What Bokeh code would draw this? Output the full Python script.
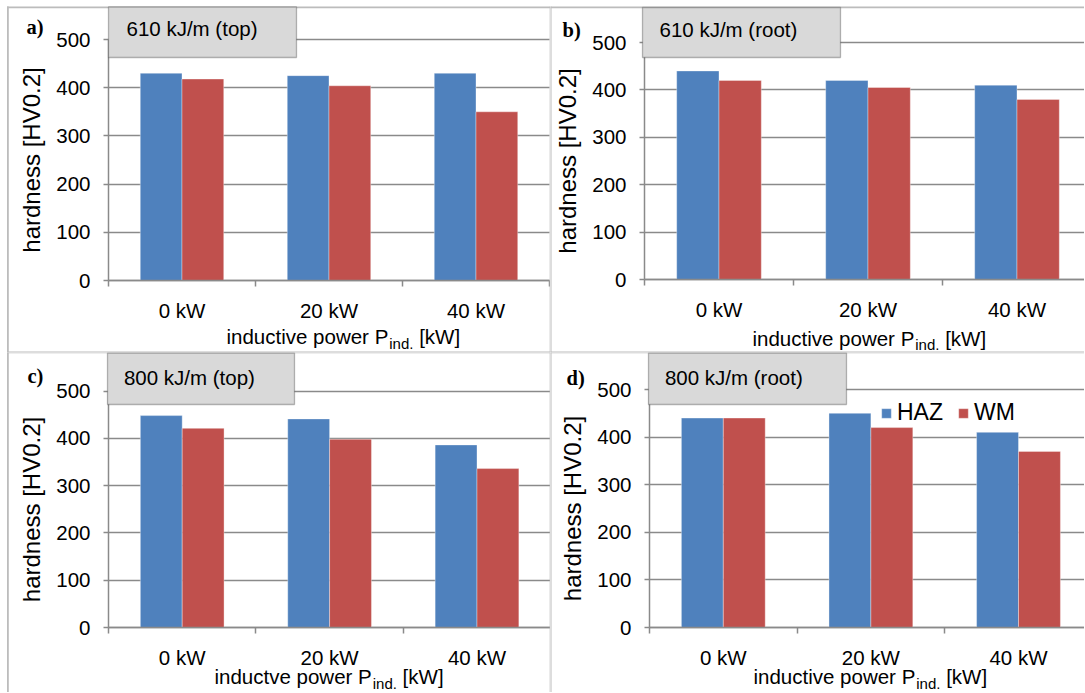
from bokeh.plotting import figure
from bokeh.layouts import column, row
from bokeh.models import (ColumnDataSource, Range1d, FixedTicker, Label,
                          BoxAnnotation, Legend, LegendItem, Grid)
from bokeh.transform import dodge
from bokeh.embed import file_html
from bokeh.resources import INLINE

# ---------------- data ----------------
categories = ["0 kW", "20 kW", "40 kW"]
series = ["HAZ", "WM"]
haz_a = [430, 425, 430]
wm_a = [418, 404, 350]
haz_b = [440, 420, 410]
wm_b = [420, 405, 380]
haz_c = [448, 441, 386]
wm_c = [421, 398, 336]
haz_d = [440, 450, 410]
wm_d = [440, 420, 370]
y_ticks = [0, 100, 200, 300, 400, 500]
panel_letters = ["a)", "b)", "c)", "d)"]
panel_titles = ["610 kJ/m (top)", "610 kJ/m (root)", "800 kJ/m (top)", "800 kJ/m (root)"]
x_title_main = ["inductive power P", "inductive power P", "inductve power P", "inductive power P"]
x_title_sub = "ind."
x_title_unit = "[kW]"
y_title = "hardness [HV0.2]"

# ---------------- styling / layout ----------------
BLUE = "#4F81BD"
RED = "#C0504D"
GRID = "#8a8a8a"
BORDER = "#bcbcbc"
FONT = "Liberation Sans"
FS = 20.5
BASE_FIX = 0.44  # label baseline correction (em)

# Arial / Liberation Sans advance widths (per 1000 em)
AW = {'i': 222, 'n': 556, 'd': 556, 'u': 556, 'c': 500, 't': 278, 'v': 500, 'e': 556,
      ' ': 278, 'p': 556, 'o': 556, 'w': 722, 'r': 333, 'P': 667, '.': 278, '[': 278,
      'k': 500, 'W': 944, ']': 278}


def tw(s, size):
    return sum(AW.get(ch, 556) for ch in s) / 1000.0 * size


panels = [
    dict(ox=0, oy=0, W=550, H=352, FL=108, FB=280, cat=147.0, unit=0.482,
         box=(108, 296, 6.5, 57), boxtext=(126, 37.5), letter=(26, 36),
         xt=(226, 345.5)),
    dict(ox=550, oy=0, W=534, H=352, FL=644, FB=279, cat=149.0, unit=0.474,
         box=(642, 840, 7, 57), boxtext=(659, 37.7), letter=(562, 39),
         xt=(752, 347)),
    dict(ox=0, oy=352, W=550, H=340, FL=108, FB=627, cat=147.4, unit=0.473,
         box=(107, 294, 352.5, 404), boxtext=(123.4, 385.8), letter=(27, 385),
         xt=(214, 685.5)),
    dict(ox=550, oy=352, W=534, H=340, FL=649, FB=627, cat=147.6, unit=0.476,
         box=(648, 846, 352.5, 404), boxtext=(664.4, 386), letter=(566, 387),
         xt=(753, 685.5)),
]
border_lines = [
    (6.5, 8.3, 6, 700),
    (6.5, 1100, 6, 7.8),
    (549.2, 551.0, 6, 700),
    (6.5, 1100, 351, 352.8),
]

haz_all = [haz_a, haz_b, haz_c, haz_d]
wm_all = [wm_a, wm_b, wm_c, wm_d]
has_cross = "cross_bounds" in Grid.properties()

figs = []
for k, cfg in enumerate(panels):
    ox, oy, W, H = cfg["ox"], cfg["oy"], cfg["W"], cfg["H"]
    FL, FB, cat, unit = cfg["FL"], cfg["FB"], cfg["cat"], cfg["unit"]

    def sx(px, ox=ox):
        return px - ox

    def sy(py, oy=oy, H=H):
        return oy + H - py

    def add_text(p, text, px, pbase, size, font=FONT, style="normal"):
        p.add_layout(Label(x=sx(px), y=sy(pbase) + BASE_FIX * size,
                           x_units="screen", y_units="screen", text=text,
                           text_font=font, text_font_size=f"{size}px",
                           text_font_style=style, text_color="black",
                           text_align="left", text_baseline="alphabetic"))

    x_range = Range1d((ox - FL) / cat, (ox + W - FL) / cat)
    y_range = Range1d((FB - (oy + H)) / unit, (FB - oy) / unit)

    p = figure(width=W, height=H, output_backend="svg", toolbar_location=None,
               x_range=x_range, y_range=y_range,
               min_border_left=0, min_border_right=0,
               min_border_top=0, min_border_bottom=0)
    p.outline_line_color = None
    p.background_fill_color = "white"
    p.border_fill_color = "white"

    for (a0, a1, b0, b1) in border_lines:
        p.add_layout(BoxAnnotation(left=sx(a0), right=sx(a1), top=sy(b0), bottom=sy(b1),
                                   left_units="screen", right_units="screen",
                                   top_units="screen", bottom_units="screen",
                                   fill_color=BORDER, fill_alpha=1, line_color=None))

    p.xgrid.grid_line_color = None
    p.ygrid.ticker = FixedTicker(ticks=y_ticks)
    if has_cross:
        p.ygrid.grid_line_color = GRID
        p.ygrid.grid_line_width = 1.5
        p.ygrid.cross_bounds = (0, len(categories))
        p.ygrid.bounds = (0, 500)
    else:
        p.ygrid.grid_line_color = None
        p.segment(x0=0, x1=len(categories), y0=y_ticks, y1=y_ticks,
                  line_color=GRID, line_width=1.5)

    xs = [i + 0.5 for i in range(len(categories))]
    src = ColumnDataSource(dict(x=xs, haz=haz_all[k], wm=wm_all[k], cat=categories))
    r1 = p.vbar(x=dodge("x", -0.142), top="haz", width=0.284, source=src,
                fill_color=BLUE, line_color="white", line_alpha=0.35, line_width=1)
    r2 = p.vbar(x=dodge("x", 0.142), top="wm", width=0.284, source=src,
                fill_color=RED, line_color="white", line_alpha=0.35, line_width=1)

    xax = p.xaxis[0]
    xax.fixed_location = 0
    xax.bounds = (0, len(categories))
    xax.ticker = FixedTicker(ticks=xs, minor_ticks=list(range(len(categories) + 1)))
    xax.major_label_overrides = {x: c for x, c in zip(xs, categories)}
    xax.major_tick_line_color = None
    xax.major_tick_out = 5
    xax.major_tick_in = 0
    xax.minor_tick_line_color = GRID
    xax.minor_tick_line_width = 1.5
    xax.minor_tick_out = 6
    xax.minor_tick_in = 0
    xax.axis_line_color = GRID
    xax.axis_line_width = 1.5
    xax.major_label_text_font = FONT
    xax.major_label_text_font_size = f"{FS}px"
    xax.major_label_text_color = "black"
    xax.major_label_standoff = 12

    yax = p.yaxis[0]
    yax.fixed_location = 0
    yax.ticker = FixedTicker(ticks=y_ticks)
    yax.bounds = (0, 500)
    yax.minor_tick_line_color = None
    yax.major_tick_line_color = GRID
    yax.major_tick_line_width = 1.5
    yax.major_tick_out = 5
    yax.major_tick_in = 0
    yax.axis_line_color = GRID
    yax.axis_line_width = 1.5
    yax.major_label_text_font = FONT
    yax.major_label_text_font_size = f"{FS}px"
    yax.major_label_text_color = "black"
    yax.major_label_standoff = 13
    yax.axis_label = y_title
    yax.axis_label_text_font = FONT
    yax.axis_label_text_font_size = "24px"
    yax.axis_label_text_font_style = "normal"
    yax.axis_label_text_color = "black"
    yax.axis_label_standoff = 8

    bx0, bx1, by0, by1 = cfg["box"]
    p.add_layout(BoxAnnotation(left=sx(bx0), right=sx(bx1), top=sy(by0), bottom=sy(by1),
                               left_units="screen", right_units="screen",
                               top_units="screen", bottom_units="screen",
                               fill_color="#D9D9D9", fill_alpha=1,
                               line_color="#1a1a1a", line_width=1.3))
    tx, ty = cfg["boxtext"]
    add_text(p, panel_titles[k], tx, ty, FS)

    lx, ly = cfg["letter"]
    add_text(p, panel_letters[k], lx, ly, 20.5, font="Liberation Serif", style="bold")

    x0, yb = cfg["xt"]
    main = x_title_main[k]
    SUB = 15
    add_text(p, main, x0, yb, FS)
    x1 = x0 + tw(main, FS) + 1
    add_text(p, x_title_sub, x1, yb + 4, SUB)
    x2 = x1 + tw(x_title_sub, SUB) + tw(" ", FS)
    add_text(p, x_title_unit, x2, yb, FS)

    if k == 3:
        legend = Legend(items=[LegendItem(label=series[0], renderers=[r1]),
                               LegendItem(label=series[1], renderers=[r2])],
                        location=(sx(880), sy(426)), orientation="horizontal",
                        glyph_width=12, glyph_height=12, label_standoff=5, spacing=14,
                        padding=0, margin=0, border_line_color=None,
                        background_fill_alpha=0, label_text_font=FONT,
                        label_text_font_size="23px", label_text_color="black")
        p.add_layout(legend)

    figs.append(p)

layout = column(row(figs[0], figs[1]), row(figs[2], figs[3]))
open("out.html", "w").write(file_html(layout, INLINE))
